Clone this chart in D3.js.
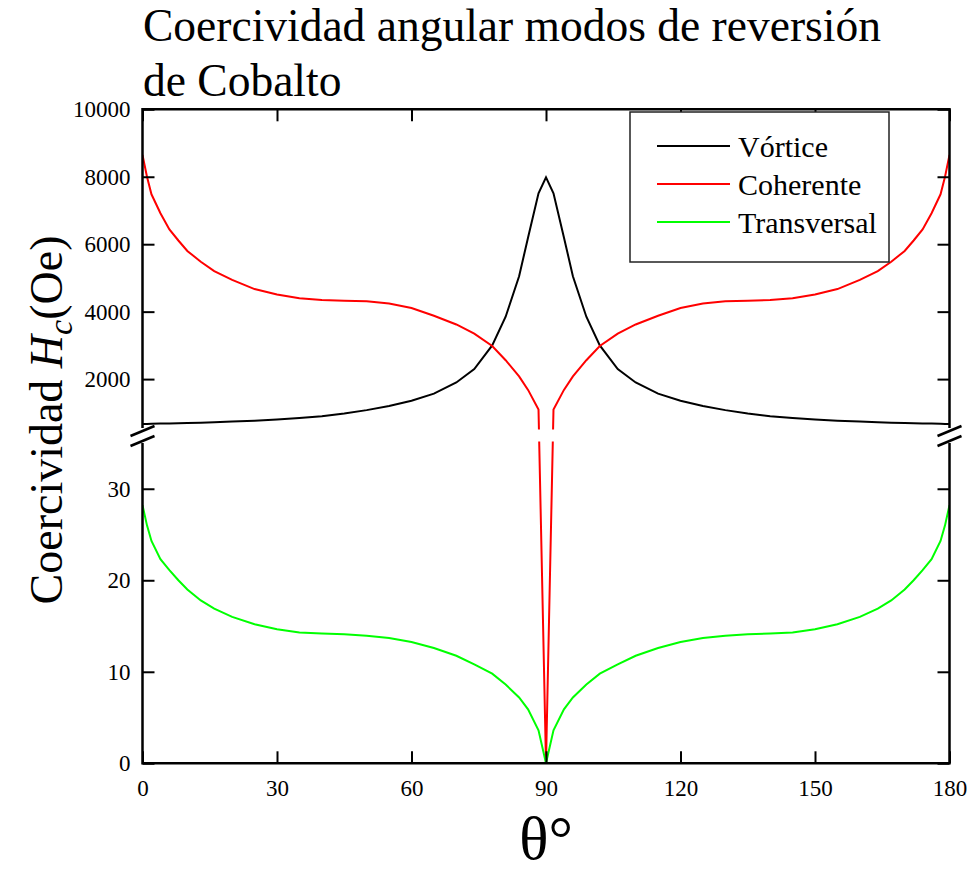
<!DOCTYPE html>
<meta charset="utf-8">
<title>Coercividad angular</title>
<style>
body { margin: 0; background: white; }
svg { font-family: "Liberation Serif", "Times New Roman", serif; }
.tick text { font-size: 23px; fill: black; font-family: "Liberation Serif", serif; }
.tick line { stroke: black; stroke-width: 2px; }
</style>
<body>
<script src="https://d3js.org/d3.v7.min.js"></script>
<script>

// angle in degrees
const theta = [0,1,2,4,6,8,10,13,16,20,25,30,35,40,45,50,55,60,65,70,74,78,81,84,86,88.33,90,
  91.67,94,96,99,102,106,110,115,120,125,130,135,140,145,150,155,160,164,167,170,172,174,176,178,179,180];

// Hc (Oe) per reversal mode
const vortice = [670,672,675,680,685,690,695,705,720,740,765,800,845,900,980,1080,1200,1360,1570,1900,2300,3000,3850,5050,6200,7510,7980,
  7510,6200,5050,3850,3000,2300,1900,1570,1360,1200,1080,980,900,845,800,765,740,720,705,695,690,685,680,675,672,670];
const coherente = [8650,8000,7480,6920,6440,6110,5800,5480,5200,4940,4670,4510,4395,4345,4325,4305,4240,4110,3880,3620,3350,2980,2560,2080,1680,1100,0,
  1100,1680,2080,2560,2980,3350,3620,3880,4110,4240,4305,4325,4345,4395,4510,4670,4940,5200,5480,5800,6110,6440,6920,7480,8000,8650];
const transversal = [28.2,26.0,24.3,22.3,21.1,20.0,19.0,17.8,16.9,16.0,15.2,14.65,14.3,14.18,14.1,13.95,13.7,13.25,12.6,11.75,10.8,9.8,8.6,7.2,5.9,3.6,0,
  3.6,5.9,7.2,8.6,9.8,10.8,11.75,12.6,13.25,13.7,13.95,14.1,14.18,14.3,14.65,15.2,16.0,16.9,17.8,19.0,20.0,21.1,22.3,24.3,26.0,28.2];

const seriesNames = ["Vórtice", "Coherente", "Transversal"];
const seriesColors = ["#000000", "#ff0000", "#00ff00"];
const xTicks = [0,30,60,90,120,150,180];
const upperTicks = [2000,4000,6000,8000,10000];
const lowerTicks = [0,10,20,30];
const breakLow = 35, breakHigh = 550;

const width = 969, height = 871;
const plotLeft = 142.5, plotRight = 949.5, plotTop = 109.3, plotBottom = 763.3;
const upperBottom = 428, lowerTop = 443;

const svg = d3.select("body").append("svg")
  .attr("width", width).attr("height", height);

const x = d3.scaleLinear().domain([0, 180]).range([plotLeft, plotRight]);
const yUp = d3.scaleLinear().domain([breakHigh, 10000]).range([upperBottom, plotTop]);
const yLo = d3.scaleLinear().domain([0, breakLow]).range([plotBottom, lowerTop]);
// broken axis: piecewise scale, lines are drawn straight between mapped points
const y = d3.scaleLinear().domain([0, breakLow, breakHigh, 10000])
  .range([plotBottom, lowerTop, upperBottom, plotTop]);

svg.append("clipPath").attr("id", "plot")
  .append("rect").attr("x", plotLeft).attr("y", plotTop)
  .attr("width", plotRight - plotLeft).attr("height", plotBottom - plotTop);

const line = d3.line().x(d => x(d[0])).y(d => y(d[1]));
[vortice, coherente, transversal].forEach(function(vals, i) {
  svg.append("path")
    .datum(theta.map((t, j) => [t, vals[j]]))
    .attr("clip-path", "url(#plot)")
    .attr("fill", "none")
    .attr("stroke", seriesColors[i])
    .attr("stroke-width", 2)
    .attr("d", line);
});

// hide the break gap
svg.append("rect")
  .attr("x", plotLeft + 1).attr("y", upperBottom + 1.5)
  .attr("width", plotRight - plotLeft - 2).attr("height", lowerTop - upperBottom - 3)
  .attr("fill", "white");

// axes
function styleAxis(g) {
  g.select(".domain").remove();
  g.attr("font-family", null).attr("font-size", null);
}
const fmt = d3.format("d");
svg.append("g").attr("transform", "translate(0," + plotBottom + ")")
  .call(d3.axisBottom(x).tickValues(xTicks).tickFormat(fmt).tickSizeInner(-12).tickSizeOuter(0).tickPadding(16))
  .call(styleAxis);
svg.append("g").attr("transform", "translate(0," + plotTop + ")")
  .call(d3.axisTop(x).tickValues(xTicks).tickSizeInner(-12).tickSizeOuter(0).tickFormat(""))
  .call(styleAxis);
svg.append("g").attr("transform", "translate(" + plotLeft + ",0)")
  .call(d3.axisLeft(yUp).tickValues(upperTicks).tickFormat(fmt).tickSizeInner(-12).tickSizeOuter(0).tickPadding(12))
  .call(styleAxis);
svg.append("g").attr("transform", "translate(" + plotLeft + ",0)")
  .call(d3.axisLeft(yLo).tickValues(lowerTicks).tickFormat(fmt).tickSizeInner(-12).tickSizeOuter(0).tickPadding(12))
  .call(styleAxis);
svg.append("g").attr("transform", "translate(" + plotRight + ",0)")
  .call(d3.axisRight(yUp).tickValues(upperTicks).tickSizeInner(-12).tickSizeOuter(0).tickFormat(""))
  .call(styleAxis);
svg.append("g").attr("transform", "translate(" + plotRight + ",0)")
  .call(d3.axisRight(yLo).tickValues(lowerTicks).tickSizeInner(-12).tickSizeOuter(0).tickFormat(""))
  .call(styleAxis);

// frame with break
const frame = svg.append("g").attr("stroke", "black").attr("stroke-width", 2.5).attr("fill", "none");
frame.append("path").attr("d",
  "M" + plotLeft + "," + upperBottom + "V" + plotTop + "H" + plotRight + "V" + upperBottom +
  "M" + plotLeft + "," + lowerTop + "V" + plotBottom + "H" + plotRight + "V" + lowerTop);
[plotLeft, plotRight].forEach(function(ax) {
  [431, 441].forEach(function(cy) {
    frame.append("line")
      .attr("x1", ax - 12).attr("y1", cy + 5)
      .attr("x2", ax + 12).attr("y2", cy - 5)
      .attr("stroke-width", 2.5);
  });
});

// legend
const legend = svg.append("g");
legend.append("rect").attr("x", 630).attr("y", 112).attr("width", 259).attr("height", 150)
  .attr("fill", "white").attr("stroke", "#222").attr("stroke-width", 1.5);
seriesNames.forEach(function(name, i) {
  const ly = 146 + i * 38;
  legend.append("line").attr("x1", 657).attr("x2", 730).attr("y1", ly).attr("y2", ly)
    .attr("stroke", seriesColors[i]).attr("stroke-width", 2);
  legend.append("text").attr("x", 738).attr("y", ly + 11)
    .style("font-size", "30px").text(name);
});

// titles
svg.append("text").attr("x", 143).attr("y", 41).style("font-size", "45.5px")
  .text("Coercividad angular modos de reversión");
svg.append("text").attr("x", 143).attr("y", 96).style("font-size", "45.5px")
  .text("de Cobalto");

const ylab = svg.append("text")
  .attr("transform", "translate(62,420) rotate(-90)")
  .attr("text-anchor", "middle")
  .style("font-size", "46px");
ylab.append("tspan").text("Coercividad ");
ylab.append("tspan").style("font-style", "italic").text("H");
ylab.append("tspan").style("font-style", "italic").style("font-size", "34px").attr("dy", 10).text("c");
ylab.append("tspan").attr("dy", -10).text("(Oe)");

svg.append("text").attr("x", 546).attr("y", 859)
  .attr("text-anchor", "middle").style("font-size", "61px").text("θ°");

</script>
</body>
